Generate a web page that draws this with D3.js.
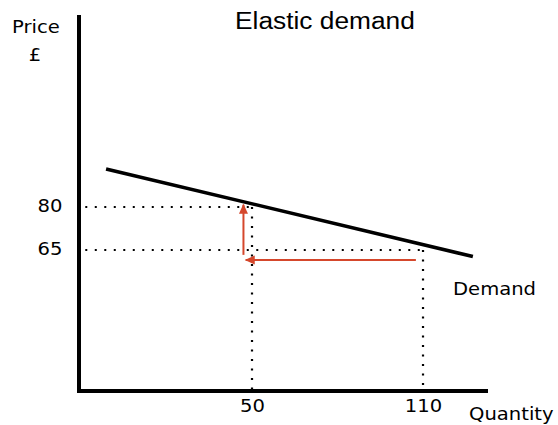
<!DOCTYPE html>
<html>
<head>
<meta charset="utf-8">
<script src="https://cdn.jsdelivr.net/npm/d3@7/dist/d3.min.js"></script>
<style>
  html, body { margin: 0; padding: 0; background: #fff; }
  svg { display: block; }
</style>
</head>
<body>
<svg id="chart" width="558" height="425"></svg>
<script>
// ---- data ----
const title = "Elastic demand";
const xTickValues = [50, 110];
const xTickLabels = ["50", "110"];
const yTickValues = [80, 65];
const yTickLabels = ["80", "65"];
const quantityDomain = [-10.7, 132.8];
const priceDomain = [15.8, 147];
const demandQuantity = [-1.2, 127.5];
const demandPrice = [93.3, 62.7];
const pointQuantity = [50, 110];
const pointPrice = [80, 65];
const dottedStartQuantity = -8.5;
const arrowHorizQuantity = [107.5, 47.8];
const arrowHorizPrice = [61.5, 61.5];
const arrowVertQuantity = [47.0, 47.0];
const arrowVertPrice = [63.3, 80.8];

// ---- layout ----
const svg = d3.select("#chart");
const mLeft = 79, mRight = 488, mTop = 15, mBottom = 391;
const sx = 1.12;
const x = d3.scaleLinear().domain(quantityDomain).range([mLeft, mRight]);
const y = d3.scaleLinear().domain(priceDomain).range([mBottom, mTop]);
const red = "#d5472c";

svg.append("defs").append("marker")
  .attr("id", "arrow").attr("viewBox", "0 0 10 10")
  .attr("refX", 9).attr("refY", 5)
  .attr("markerWidth", 5.5).attr("markerHeight", 5)
  .attr("markerUnits", "strokeWidth")
  .attr("orient", "auto")
  .append("path").attr("d", "M0,0.5 L10,5 L0,9.5 Z").attr("fill", red);

// dotted guide lines
const dotStyle = sel => sel.attr("stroke", "#000").attr("stroke-width", 2.2)
  .attr("stroke-dasharray", "2,7.5").attr("fill", "none");
pointQuantity.forEach((q, i) => {
  const p = pointPrice[i];
  svg.append("line").call(dotStyle)
    .attr("x1", x(dottedStartQuantity)).attr("y1", y(p))
    .attr("x2", x(q)).attr("y2", y(p));
  svg.append("line").call(dotStyle)
    .attr("x1", x(q)).attr("y1", y(p))
    .attr("x2", x(q)).attr("y2", y(priceDomain[0]) - 2);
});

// demand line
svg.append("line")
  .attr("x1", x(demandQuantity[0])).attr("y1", y(demandPrice[0]))
  .attr("x2", x(demandQuantity[1])).attr("y2", y(demandPrice[1]))
  .attr("stroke", "#000").attr("stroke-width", 3.6);

// arrows
svg.append("line")
  .attr("x1", x(arrowHorizQuantity[0])).attr("y1", y(arrowHorizPrice[0]))
  .attr("x2", x(arrowHorizQuantity[1])).attr("y2", y(arrowHorizPrice[1]))
  .attr("stroke", red).attr("stroke-width", 2)
  .attr("marker-end", "url(#arrow)");
svg.append("line")
  .attr("x1", x(arrowVertQuantity[0])).attr("y1", y(arrowVertPrice[0]))
  .attr("x2", x(arrowVertQuantity[1])).attr("y2", y(arrowVertPrice[1]))
  .attr("stroke", red).attr("stroke-width", 2)
  .attr("marker-end", "url(#arrow)");

// axes
const xAxis = d3.axisBottom(x).tickValues(xTickValues)
  .tickFormat((d, i) => xTickLabels[i]).tickSize(0);
const gx = svg.append("g").attr("transform", `translate(0,${mBottom})`).call(xAxis);
gx.select(".domain").remove();
gx.selectAll("text")
  .attr("font-family", "DejaVu Sans, Verdana, sans-serif")
  .attr("font-size", 17.5).attr("fill", "#000")
  .attr("dy", null).attr("y", 21)
  .attr("transform", `scale(${sx},1)`);

const yAxis = d3.axisLeft(y).tickValues(yTickValues)
  .tickFormat((d, i) => yTickLabels[i]).tickSize(0);
const gy = svg.append("g").attr("transform", `translate(${mLeft},0)`).call(yAxis);
gy.select(".domain").remove();
gy.selectAll("text")
  .attr("font-family", "DejaVu Sans, Verdana, sans-serif")
  .attr("font-size", 17.5).attr("fill", "#000")
  .attr("text-anchor", "middle")
  .attr("x", -29 / sx).attr("dy", null).attr("y", 4)
  .attr("transform", `scale(${sx},1)`);

svg.append("path")
  .attr("d", `M${mLeft},${mTop} V${mBottom} H${mRight}`)
  .attr("fill", "none").attr("stroke", "#000").attr("stroke-width", 4)
  .attr("stroke-linejoin", "miter");

// text helper
function label(txt, px, py, opts) {
  svg.append("text")
    .attr("transform", `translate(${px},${py}) scale(${opts.sx || sx},1)`)
    .attr("text-anchor", opts.anchor || "start")
    .attr("font-family", opts.family || "DejaVu Sans, Verdana, sans-serif")
    .attr("font-size", opts.size || 17.5)
    .attr("fill", "#000")
    .text(txt);
}
label(title, 235, 29, { family: "Liberation Sans, Arial, sans-serif", size: 23.5, sx: 1.12 });
label("Price", 12, 33, {});
label("£", 35, 61, { anchor: "middle" });
label("Demand", 453, 295, {});
label("Quantity", 469, 420, {});
</script>
</body>
</html>
